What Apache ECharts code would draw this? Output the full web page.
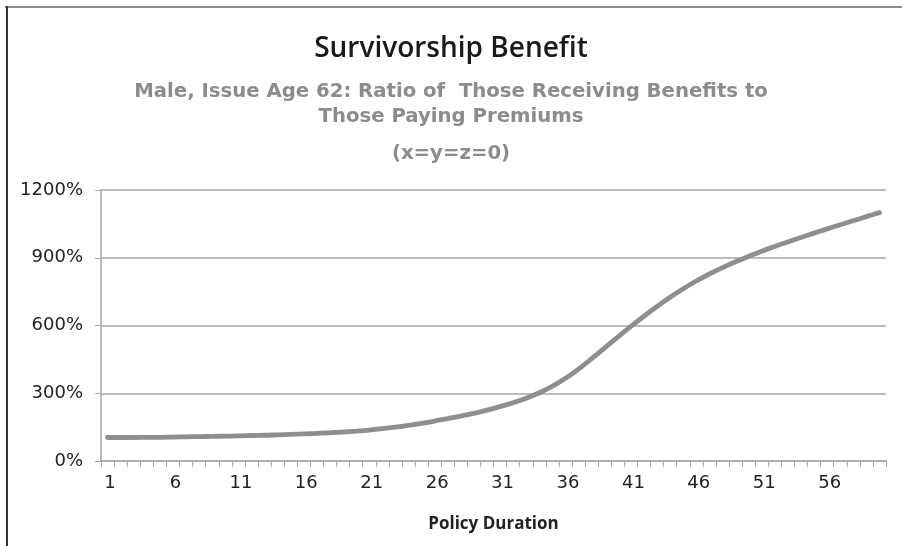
<!DOCTYPE html>
<html>
<head>
<meta charset="utf-8">
<script src="https://cdn.jsdelivr.net/npm/echarts@6/dist/echarts.min.js"></script>
<style>
  html, body { margin: 0; padding: 0; background: #fff; }
  #chart { width: 902px; height: 546px; }
</style>
</head>
<body>
<div id="chart"></div>
<script>
// policy durations 1..60
const durations = [
  "1", "2", "3", "4", "5", "6", "7", "8", "9", "10",
  "11", "12", "13", "14", "15", "16", "17", "18", "19", "20",
  "21", "22", "23", "24", "25", "26", "27", "28", "29", "30",
  "31", "32", "33", "34", "35", "36", "37", "38", "39", "40",
  "41", "42", "43", "44", "45", "46", "47", "48", "49", "50",
  "51", "52", "53", "54", "55", "56", "57", "58", "59", "60"
];

// ratio in percent
const ratioPct = [
  104, 104, 104, 105, 105, 106, 107, 108, 109, 110,
  111, 113, 114, 116, 118, 120, 122, 125, 128.5, 132.5,
  137, 143, 150, 158, 167, 177, 188, 199, 211, 225,
  241, 258, 278, 302, 331, 366, 407, 453, 501, 549,
  596, 641, 684, 725, 763, 797, 828, 856, 882, 906,
  929, 950, 970, 990, 1009, 1028, 1046, 1064, 1082, 1100
];

const yTicks = [0, 300, 600, 900, 1200];

const titleText = "Survivorship Benefit";
const subLines = [
  "Male, Issue Age 62: Ratio of  Those Receiving Benefits to",
  "Those Paying Premiums"
];
const noteText = "(x=y=z=0)";

const chart = echarts.init(document.getElementById("chart"), null, { renderer: "canvas" });

const font = "'Open Sans', sans-serif";
const wide = "'DejaVu Sans', sans-serif";
const gridColor = "#a6a6a6";

chart.setOption({
  backgroundColor: "#fff",
  animation: false,
  title: [
    {
      text: titleText,
      left: "center",
      top: 30,
      textStyle: { fontFamily: font, fontSize: 28, fontWeight: 600, color: "#1a1a1a" }
    },
    {
      text: subLines.join("\n"),
      left: "center",
      top: 74,
      textStyle: { fontFamily: wide, fontSize: 19.7, fontWeight: "bold", color: "#8c8c8c", lineHeight: 25 }
    },
    {
      text: noteText,
      left: "center",
      top: 139,
      textStyle: { fontFamily: wide, fontSize: 19.7, fontWeight: "bold", color: "#8c8c8c" }
    }
  ],
  graphic: [
    { type: "line", shape: { x1: 5, y1: 7, x2: 902, y2: 7 }, style: { stroke: "#8a8a8a", lineWidth: 2 } },
    { type: "line", shape: { x1: 7, y1: 6, x2: 7, y2: 546 }, style: { stroke: "#333", lineWidth: 2 } }
  ],
  grid: { left: 101, right: 16, top: 190, bottom: 85 },
  xAxis: {
    type: "category",
    data: durations,
    boundaryGap: true,
    name: "Policy Duration",
    nameLocation: "middle",
    nameGap: 55,
    nameTextStyle: { fontFamily: font, fontSize: 17, fontWeight: "bold", color: "#222" },
    axisLine: { lineStyle: { color: gridColor, width: 1.5 } },
    axisTick: { show: true, interval: 0, length: 6, lineStyle: { color: gridColor } },
    axisLabel: {
      interval: (idx) => idx % 5 === 0,
      fontFamily: wide, fontSize: 18, color: "#222", margin: 13,
      padding: [0, 0, 0, 5]
    }
  },
  yAxis: {
    type: "value",
    min: yTicks[0],
    max: yTicks[yTicks.length - 1],
    interval: 300,
    axisLine: { show: true, lineStyle: { color: gridColor, width: 1.5 } },
    axisTick: { show: true, length: 6, lineStyle: { color: gridColor } },
    axisLabel: {
      formatter: (v) => v + "%",
      fontFamily: wide, fontSize: 18, color: "#222", margin: 18
    },
    splitLine: { lineStyle: { color: gridColor, width: 1.5 } }
  },
  series: [
    {
      type: "line",
      data: ratioPct,
      showSymbol: false,
      smooth: 0.4,
      lineStyle: { color: "#8e8e8e", width: 4.8, cap: "round" }
    }
  ]
});
</script>
</body>
</html>
